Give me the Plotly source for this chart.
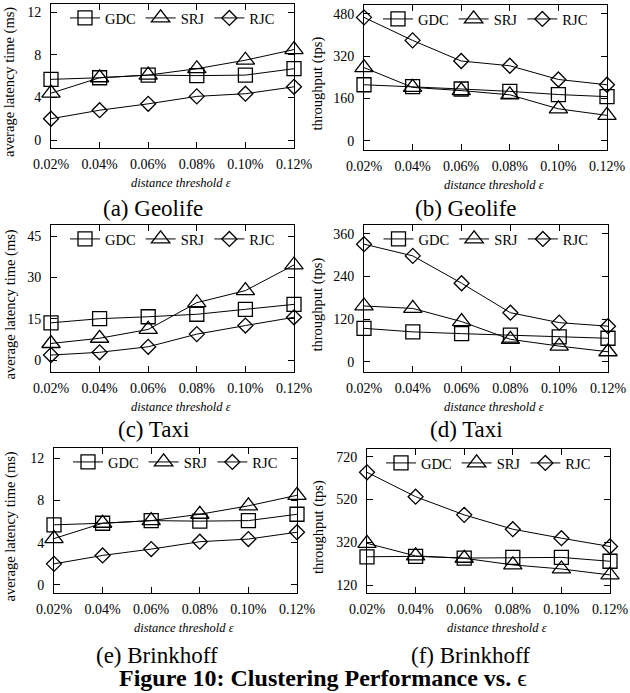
import plotly.graph_objects as go

W, H = 630, 693

# ---------------- data ----------------
x_vals = [0.02, 0.04, 0.06, 0.08, 0.10, 0.12]
x_labels = ["0.02%", "0.04%", "0.06%", "0.08%", "0.10%", "0.12%"]
series_names = ["GDC", "SRJ", "RJC"]

geolife_latency_gdc = [5.7, 5.85, 6.1, 6.05, 6.1, 6.7]
geolife_latency_srj = [4.4, 5.85, 6.1, 6.7, 7.5, 8.5]
geolife_latency_rjc = [2.0, 2.8, 3.4, 4.1, 4.35, 5.0]

geolife_tput_gdc = [212, 205, 196, 187, 175, 167]
geolife_tput_srj = [277, 202, 190, 174, 121, 96]
geolife_tput_rjc = [467, 380, 302, 284, 232, 212]

taxi_latency_gdc = [13.5, 15.0, 15.7, 16.6, 18.4, 20.2]
taxi_latency_srj = [6.0, 7.9, 11.1, 20.8, 25.2, 34.5]
taxi_latency_rjc = [1.8, 2.8, 4.8, 9.4, 12.5, 15.5]

taxi_tput_gdc = [94, 84, 79, 75, 70, 66]
taxi_tput_srj = [157, 150, 113, 63, 44, 28]
taxi_tput_rjc = [331, 298, 221, 138, 110, 100]

brink_latency_gdc = [5.7, 5.85, 6.1, 6.05, 6.1, 6.7]
brink_latency_srj = [4.4, 5.85, 6.1, 6.7, 7.5, 8.5]
brink_latency_rjc = [2.0, 2.8, 3.4, 4.1, 4.35, 5.0]

brink_tput_gdc = [252, 254, 246, 249, 249, 231]
brink_tput_srj = [315, 256, 245, 214, 195, 167]
brink_tput_rjc = [647, 533, 448, 381, 339, 300]

latency_ticks = [0, 4, 8, 12]
geolife_tput_ticks = [0, 160, 320, 480]
taxi_latency_ticks = [0, 15, 30, 45]
taxi_tput_ticks = [0, 120, 240, 360]
brink_tput_ticks = [120, 320, 520, 720]

subtitles = ["(a) Geolife", "(b) Geolife", "(c) Taxi", "(d) Taxi",
             "(e) Brinkhoff", "(f) Brinkhoff"]
latency_title = "average latency time (ms)"
tput_title = "throughput (tps)"
x_title = "distance threshold ε"
caption = "<b>Figure 10: Clustering Performance vs.</b> ϵ"

# ---------------- layout (pixel boxes) ----------------
FONT = "Liberation Serif, Times New Roman, Times, serif"
panels = [
    dict(series=[geolife_latency_gdc, geolife_latency_srj, geolife_latency_rjc],
         box=(51, 294, 4, 148), yr=[-0.75, 12.78], ticks=latency_ticks, ytitle=latency_title,
         ytx=10, sub=(153, 208)),
    dict(series=[geolife_tput_gdc, geolife_tput_srj, geolife_tput_rjc],
         box=(364, 607, 5, 150), yr=[-35, 514], ticks=geolife_tput_ticks, ytitle=tput_title,
         ytx=317, sub=(466, 208)),
    dict(series=[taxi_latency_gdc, taxi_latency_srj, taxi_latency_rjc],
         box=(51, 294, 225, 372), yr=[-4.35, 49], ticks=taxi_latency_ticks, ytitle=latency_title,
         ytx=10, sub=(153, 429)),
    dict(series=[taxi_tput_gdc, taxi_tput_srj, taxi_tput_rjc],
         box=(364, 608, 225, 372), yr=[-29, 385], ticks=taxi_tput_ticks, ytitle=tput_title,
         ytx=317, sub=(466, 429)),
    dict(series=[brink_latency_gdc, brink_latency_srj, brink_latency_rjc],
         box=(54, 297, 448, 593), yr=[-0.76, 12.98], ticks=latency_ticks, ytitle=latency_title,
         ytx=10, sub=(157, 655)),
    dict(series=[brink_tput_gdc, brink_tput_srj, brink_tput_rjc],
         box=(367, 610, 449, 593), yr=[82.6, 756], ticks=brink_tput_ticks, ytitle=tput_title,
         ytx=318, sub=(470, 655)),
]

symbols = ["square-open", "triangle-up-open", "diamond-open"]
sizes = [14, 16, 11.5]

fig = go.Figure()
annotations = []
layout_upd = {}

for i, p in enumerate(panels):
    k = i + 1
    xa = "x" if k == 1 else f"x{k}"
    ya = "y" if k == 1 else f"y{k}"
    lg = "legend" if k == 1 else f"legend{k}"
    x0, x1, y0, y1 = p["box"]
    for j, name in enumerate(series_names):
        fig.add_trace(go.Scatter(
            x=x_vals, y=p["series"][j], name=name, mode="lines+markers",
            xaxis=xa, yaxis=ya, legend=lg, cliponaxis=False,
            line=dict(color="black", width=1),
            marker=dict(symbol=symbols[j], size=sizes[j], color="black",
                        line=dict(color="black", width=1.3)),
        ))
    axis_common = dict(showline=True, linecolor="black", linewidth=1, mirror="ticks",
                       ticks="inside", ticklen=6, tickcolor="black", tickwidth=1,
                       showgrid=False, zeroline=False,
                       tickfont=dict(family=FONT, size=14, color="black"))
    layout_upd["xaxis" if k == 1 else f"xaxis{k}"] = dict(
        domain=[x0 / W, x1 / W], range=[x_vals[0], x_vals[-1]], anchor=ya,
        tickvals=x_vals, ticktext=x_labels, ticklabelstandoff=3, **axis_common)
    layout_upd["yaxis" if k == 1 else f"yaxis{k}"] = dict(
        domain=[1 - y1 / H, 1 - y0 / H], range=p["yr"], anchor=xa,
        tickvals=p["ticks"], ticklabelstandoff=6, **axis_common)
    layout_upd[lg] = dict(
        orientation="h", x=(x0 + x1) / 2 / W, xanchor="center",
        y=1 - (y0 + 14) / H, yanchor="middle", bgcolor="rgba(0,0,0,0)",
        font=dict(family=FONT, size=14.5, color="black"))
    cy = (y0 + y1) / 2 + 6
    annotations.append(dict(text=p["ytitle"], x=p["ytx"] / W, y=1 - cy / H, xref="paper",
                            yref="paper", showarrow=False, textangle=-90,
                            font=dict(family=FONT, size=14.5, color="black"),
                            xanchor="center", yanchor="middle"))
    annotations.append(dict(text="<i>" + x_title + "</i>", x=((x0 + x1) / 2 + 8) / W,
                            y=1 - (y1 + 35) / H, xref="paper", yref="paper", showarrow=False,
                            font=dict(family=FONT, size=12.5, color="black"),
                            xanchor="center", yanchor="middle"))
    sx, sy = p["sub"]
    annotations.append(dict(text=subtitles[i], x=sx / W, y=1 - sy / H, xref="paper",
                            yref="paper", showarrow=False,
                            font=dict(family=FONT, size=23, color="black"),
                            xanchor="center", yanchor="middle"))

annotations.append(dict(text=caption, x=323 / W, y=1 - 678 / H, xref="paper", yref="paper",
                        showarrow=False, font=dict(family=FONT, size=24, color="black"),
                        xanchor="center", yanchor="middle"))

fig.update_layout(
    width=W, height=H, margin=dict(l=0, r=0, t=0, b=0, autoexpand=False),
    paper_bgcolor="white", plot_bgcolor="white",
    font=dict(family=FONT, color="black"),
    annotations=annotations, **layout_upd,
)

fig.write_html(
    "out.html",
    config={"displayModeBar": False},
    post_script="document.body.style.margin='0';document.body.style.padding='0';"
                "document.body.style.overflow='hidden';",
)
